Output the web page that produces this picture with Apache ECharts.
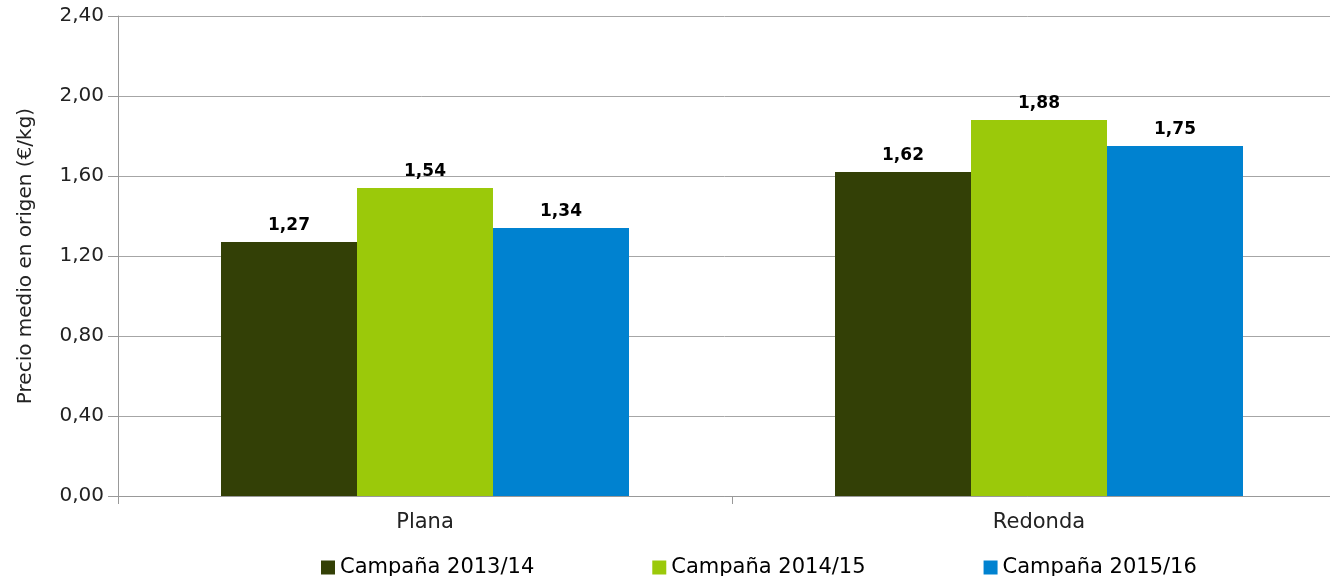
<!DOCTYPE html>
<html lang="es" style="height: 100%">
<head>
  <meta charset="utf-8">
</head>
<body style="height: 100%; margin: 0">
  <div id="container" style="width: 1330px; height: 576px"></div>
  <script src="https://cdn.jsdelivr.net/npm/echarts@6/dist/echarts.min.js"></script>
  <script type="text/javascript">
    var dom = document.getElementById('container');
    var myChart = echarts.init(dom, null, { renderer: 'canvas' });

    // datos
    const categorias = ['Plana', 'Redonda'];
    const campanas = ['Campaña 2013/14', 'Campaña 2014/15', 'Campaña 2015/16'];
    const valores2013 = [1.27, 1.62];
    const valores2014 = [1.54, 1.88];
    const valores2015 = [1.34, 1.75];
    const colores = ['#334006', '#9bc90a', '#0082d0'];

    const fuente = 'DejaVu Sans';
    const coma = function (v) {
      return v.toFixed(2).replace('.', ',');
    };

    function serie(nombre, datos, color) {
      return {
        name: nombre,
        type: 'bar',
        data: datos,
        barWidth: 136,
        barGap: '0%',
        itemStyle: { color: color },
        label: {
          show: true,
          position: 'top',
          distance: 8,
          color: '#000',
          fontFamily: fuente,
          fontWeight: 'bold',
          fontSize: 17,
          formatter: function (p) { return coma(p.value); }
        }
      };
    }

    var option = {
      animation: false,
      grid: { left: 118, width: 1228, top: 16, height: 480, outerBoundsMode: 'none', containLabel: false },
      legend: {
        top: 552,
        left: 316,
        itemWidth: 14,
        itemHeight: 14,
        itemGap: 118,
        icon: 'rect',
        textStyle: { fontFamily: fuente, fontSize: 21, color: '#000' },
        data: campanas
      },
      xAxis: {
        type: 'category',
        data: categorias,
        axisLine: { lineStyle: { color: '#999', width: 1 } },
        axisTick: { show: true, length: 8, lineStyle: { color: '#999' } },
        axisLabel: { fontFamily: fuente, fontSize: 21, color: '#222', margin: 16 }
      },
      yAxis: {
        type: 'value',
        min: 0,
        max: 2.4,
        interval: 0.4,
        name: 'Precio medio en origen (€/kg)',
        nameLocation: 'middle',
        nameGap: 82,
        nameTextStyle: { fontFamily: fuente, fontSize: 20, color: '#222' },
        axisLine: { show: true, lineStyle: { color: '#999' } },
        axisTick: { show: true, length: 10, lineStyle: { color: '#999' } },
        splitLine: { lineStyle: { color: '#a6a6a6', width: 1 } },
        axisLabel: {
          fontFamily: fuente,
          fontSize: 20,
          color: '#222',
          margin: 14,
          formatter: function (v) { return coma(v); }
        }
      },
      series: [
        serie(campanas[0], valores2013, colores[0]),
        serie(campanas[1], valores2014, colores[1]),
        serie(campanas[2], valores2015, colores[2])
      ]
    };

    myChart.setOption(option);
    window.addEventListener('resize', myChart.resize);
  </script>
</body>
</html>
